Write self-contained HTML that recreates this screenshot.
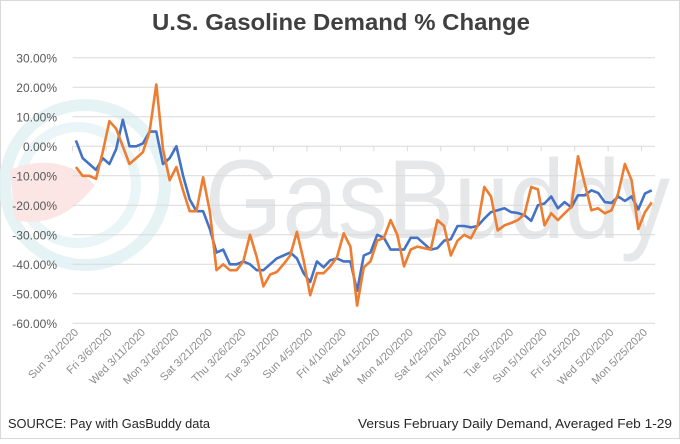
<!DOCTYPE html>
<html><head><meta charset="utf-8"><style>
body{margin:0;background:#fff;}
svg text{font-family:"Liberation Sans",sans-serif;}
</style></head><body>
<svg id="c" width="680" height="439" viewBox="0 0 680 439" xmlns="http://www.w3.org/2000/svg">
<rect x="0.5" y="0.5" width="679" height="438" fill="#fff" stroke="#d9d9d9"/>
<g opacity="0.9">
<circle cx="85" cy="185" r="80" fill="none" stroke="#e3f2f5" stroke-width="12"/>
<circle cx="78" cy="185" r="58" fill="none" stroke="#e8f4f7" stroke-width="10"/>
<path d="M10 170 Q60 150 95 185 Q60 230 15 220 Z" fill="#fbe3e3"/>
</g>
<text x="205" y="238" font-size="112" fill="#e5e7e9" textLength="465" lengthAdjust="spacingAndGlyphs">GasBuddy</text>
<text x="152" y="30" font-size="23" font-weight="bold" fill="#404040" textLength="378" lengthAdjust="spacingAndGlyphs">U.S. Gasoline Demand % Change</text>
<g id="grid"></g><g id="yl"></g><g id="xl"></g><g id="lines"></g>
<text x="8" y="428" font-size="12.5" fill="#262626" textLength="202" lengthAdjust="spacingAndGlyphs">SOURCE: Pay with GasBuddy data</text>
<text x="358" y="428" font-size="12.5" fill="#262626" textLength="314" lengthAdjust="spacingAndGlyphs">Versus February Daily Demand, Averaged Feb 1-29</text>
</svg>
<script>
const yTicks=[30,20,10,0,-10,-20,-30,-40,-50,-60];
const xLabels=["Sun 3/1/2020","Fri 3/6/2020","Wed 3/11/2020","Mon 3/16/2020","Sat 3/21/2020","Thu 3/26/2020","Tue 3/31/2020","Sun 4/5/2020","Fri 4/10/2020","Wed 4/15/2020","Mon 4/20/2020","Sat 4/25/2020","Thu 4/30/2020","Tue 5/5/2020","Sun 5/10/2020","Fri 5/15/2020","Wed 5/20/2020","Mon 5/25/2020"];
const seriesBlue=[2,-4,-6,-8,-4,-6,-1,9,0,0,1,5,5,-6,-4,0,-10,-18,-22,-22,-28,-36,-35,-40,-40,-39,-40,-42,-42,-40,-38,-37,-36,-38,-43,-46,-39,-41,-38.6,-38,-39,-39,-49,-37,-36,-30,-31,-35,-35,-35,-31,-31,-33,-35,-34.5,-32,-31.5,-27,-27,-27.5,-27,-24.5,-22.3,-21.7,-21,-22.3,-22.6,-23.4,-25.3,-20,-19.4,-17,-21,-18.9,-20.7,-16.6,-16.6,-14.9,-15.8,-18.9,-19.2,-17,-18.5,-17,-21.4,-16,-14.9];
const seriesOrange=[-7,-10,-10,-11,-2,8.5,6,0,-6,-4,-2,5,21,-1,-11.5,-7,-15,-22,-22,-10.5,-22,-42,-40,-42,-42,-39,-30,-37.5,-47.5,-43.5,-42.6,-40,-37,-29,-38.6,-50.5,-43,-43,-40.7,-37.6,-29.5,-34,-54,-41,-39,-32,-31,-25,-30,-40.7,-35,-34,-34.5,-35,-25,-27,-37,-32,-30,-31.2,-26.8,-13.8,-17,-28.5,-26.8,-26,-25,-23,-13.8,-14.6,-26.8,-22.7,-25,-22.7,-20.5,-3.4,-12.6,-21.7,-21,-22.7,-21.7,-16,-6,-11.5,-28,-22.3,-19];
const NS="http://www.w3.org/2000/svg";
const plotL=72.6, plotR=655, n=seriesBlue.length, step=(plotR-plotL)/n;
const y=v=>146.3-v*2.95;
const x=i=>plotL+step*(i+0.5);
function mk(tag,attrs,parent){const e=document.createElementNS(NS,tag);for(const k in attrs)e.setAttribute(k,attrs[k]);document.getElementById(parent).appendChild(e);return e;}
yTicks.forEach(v=>{
 const g=mk("line",{x1:plotL,x2:plotR,y1:y(v),y2:y(v),stroke:"#d9d9d9","stroke-width":1},"grid");
 
 
 const t=mk("text",{x:57,y:y(v)+4.5,"text-anchor":"end","font-size":12,fill:"#595959"},"yl");
 t.textContent=v.toFixed(2)+"%";
 
 
});
for(let k=0;k<=n;k+=5){
 const tx=plotL+step*k;
 const tk=mk("line",{x1:tx,x2:tx,y1:y(0),y2:y(0)+5,stroke:"#d9d9d9"},"grid");
 
 
}
xLabels.forEach((s,j)=>{
 const cx=x(j*5)+3, cy=333;
 const t=mk("text",{x:cx,y:cy,"text-anchor":"end","font-size":11,fill:"#8c8c8c",transform:`rotate(-45 ${cx} ${cy})`},"xl");
 t.textContent=s;
 
 
});
[[seriesBlue,"#4472c4","series-blue-line"],[seriesOrange,"#ed7d31","series-orange-line"]].forEach(([d,c,nm])=>{
 const p=mk("polyline",{points:d.map((v,i)=>x(i).toFixed(1)+","+y(v).toFixed(1)).join(" "),fill:"none",stroke:c,"stroke-width":2.6,"stroke-linejoin":"round"},"lines");
 
 
});
</script>
</body></html>
